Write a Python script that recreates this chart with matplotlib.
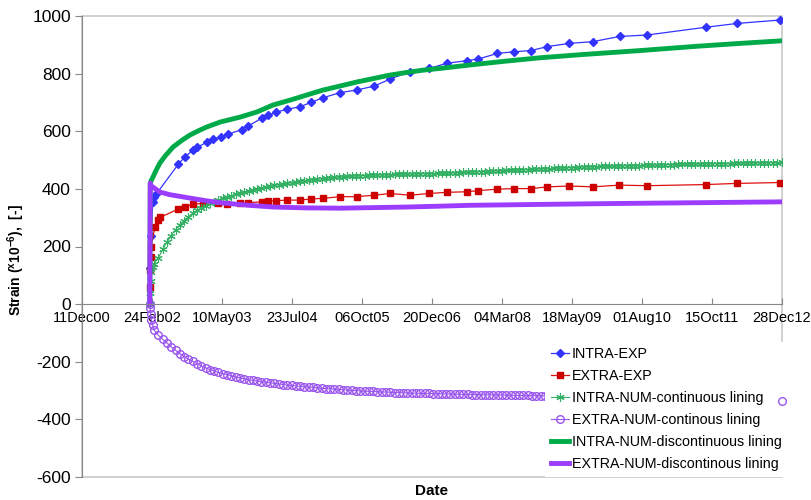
import matplotlib
matplotlib.use('Agg')
import matplotlib.pyplot as plt
import matplotlib.dates as mdates
from matplotlib.patches import Rectangle
import pandas as pd

plt.rcParams['font.family'] = ['Liberation Sans', 'DejaVu Sans']
plt.rcParams['axes.unicode_minus'] = False

# all series start at the same day (days below are counted from here)
start = pd.Timestamp('2002-02-10')

# experimental readings
intra_exp_days = [3, 6, 20, 29, 45, 180, 221, 273, 295, 357, 399, 446, 494, 578, 620, 704, 746, 794,
                  861, 944, 1013, 1087, 1196, 1301, 1412, 1510, 1636, 1757, 1866, 1993, 2066, 2185,
                  2290, 2395, 2500, 2638, 2785, 2953, 3125, 3496, 3689, 3961]
intra_exp_vals = [125, 235, 355, 373, 385, 486, 511, 535, 544, 561, 573, 581, 590, 606, 619, 645, 656, 666,
                  676, 685, 700, 716, 734, 743, 757, 781, 807, 818, 836, 845, 851, 870,
                  876, 880, 894, 905, 911, 929, 934, 961, 974, 986]

extra_exp_days = [2, 4, 6, 8, 32, 53, 64, 180, 221, 273, 336, 430, 487, 567, 619, 704, 744, 794,
                  861, 944, 1013, 1087, 1196, 1300, 1411, 1510, 1636, 1757, 1866, 1993, 2066, 2185,
                  2290, 2395, 2500, 2638, 2785, 2951, 3124, 3496, 3690, 3961]
extra_exp_vals = [60, 120, 164, 199, 268, 292, 301, 330, 338, 346, 350, 352, 347, 350, 352, 355, 357, 359,
                  361, 361, 365, 367, 373, 373, 378, 384, 378, 384, 388, 390, 394, 399,
                  401, 401, 407, 410, 407, 413, 411, 415, 419, 422]

# continuous lining model: first days, then every 27 days up to the end of the axis
cont_days = [0, 2, 5, 10, 18] + list(range(27, 3943, 27)) + [3974]
intra_cont_vals = [0, 40, 80, 110, 128,
                   140, 160, 190, 215, 238, 258, 275, 290, 303, 315,
                   325, 334, 342, 350, 356, 362, 367, 372, 377, 381,
                   385, 389, 393, 396, 400, 403, 406, 409, 412, 414,
                   417, 419, 421, 424, 426, 428, 430, 432, 434, 435,
                   437, 438, 440, 441, 442, 443, 444, 445, 446, 446,
                   447, 447, 448, 448, 449, 449, 450, 450, 451, 451,
                   452, 452, 452, 453, 453, 453, 454, 454, 454, 455,
                   456, 456, 457, 458, 458, 459, 460, 460, 461, 462,
                   462, 463, 464, 464, 465, 466, 466, 467, 468, 468,
                   469, 470, 470, 471, 472, 472, 473, 474, 474, 475,
                   476, 476, 477, 477, 478, 478, 478, 479, 479, 480,
                   480, 480, 481, 481, 482, 482, 482, 483, 483, 484,
                   484, 484, 485, 485, 485, 486, 486, 486, 487, 487,
                   487, 488, 488, 488, 488, 489, 489, 489, 489, 490,
                   490, 490, 490, 491, 491, 491, 492]
extra_cont_vals = [0, -15, -35, -55, -72,
                   -90, -108, -122, -135, -148, -160, -172, -182, -191, -199,
                   -207, -214, -221, -227, -232, -237, -241, -245, -249, -253,
                   -256, -259, -262, -265, -267, -269, -271, -273, -275, -277,
                   -279, -281, -282, -284, -285, -287, -288, -289, -291, -292,
                   -293, -294, -295, -296, -297, -298, -299, -300, -301, -302,
                   -303, -303, -304, -305, -305, -306, -307, -307, -308, -308,
                   -309, -309, -310, -310, -310, -311, -311, -311, -312, -312,
                   -312, -313, -313, -313, -314, -314, -314, -315, -315, -315,
                   -315, -316, -316, -316, -317, -317, -317, -317, -318, -318,
                   -318, -319, -319, -319, -320, -320, -320, -321, -321, -321,
                   -322, -322, -322, -323, -323, -323, -324, -324, -324, -325,
                   -325, -325, -326, -326, -326, -327, -327, -327, -328, -328,
                   -328, -329, -329, -329, -330, -330, -330, -330, -331, -331,
                   -331, -331, -332, -332, -332, -332, -333, -333, -333, -333,
                   -333, -334, -334, -334, -334, -334, -335]

# discontinuous lining model
intra_disc_days = [0, 3, 10, 20, 43, 64, 98, 146, 198, 253, 307, 359, 443, 567, 674, 774, 882, 988,
                   1089, 1197, 1302, 1406, 1510, 1615, 1717, 1824, 2012, 2214, 2453, 2714, 3082, 3440,
                   3713, 3974]
intra_disc_vals = [0, 420, 430, 441, 468, 490, 515, 545, 567, 587, 602, 615, 632, 649, 667, 691, 708, 726,
                   743, 757, 771, 783, 795, 804, 812, 818, 830, 842, 855, 866, 880, 895,
                   905, 914]
extra_disc_days = [0, 3, 10, 64, 125, 253, 352, 460, 625, 774, 988, 1196, 1406, 1617, 1824, 2013,
                   2441, 2896, 3441, 3974]
extra_disc_vals = [0, 420, 410, 389, 380, 368, 359, 351, 343, 337, 334, 333, 335, 337, 340, 343,
                   346, 349, 352, 355]


def to_dates(days):
    return [start + pd.Timedelta(days=d) for d in days]


fig = plt.figure(figsize=(8.11, 5.0), dpi=100)
ax = fig.add_axes([82 / 811, 23 / 500, 700 / 811, 461 / 500])

ax.plot(to_dates(intra_exp_days), intra_exp_vals, color='#3333ff', lw=0.9, marker='D', ms=4.2,
        label='INTRA-EXP')
ax.plot(to_dates(extra_exp_days), extra_exp_vals, color='#dd1111', lw=0.9, marker='s', ms=4.5,
        mfc='#cc0000', mec='#cc0000', label='EXTRA-EXP')
ax.plot(to_dates(cont_days), intra_cont_vals, color='#34b064', lw=0.8, marker=(6, 2, 0), ms=6,
        mew=0.8, label='INTRA-NUM-continuous lining')
ax.plot(to_dates(cont_days), extra_cont_vals, color='#9a55ee', lw=0.8, marker='o', ms=5.5,
        mfc='none', mew=1.0, clip_on=False, label='EXTRA-NUM-continous lining')
ax.plot(to_dates(intra_disc_days), intra_disc_vals, color='#00aa48', lw=3.5,
        label='INTRA-NUM-discontinuous lining')
ax.plot(to_dates(extra_disc_days), extra_disc_vals, color='#9b3cff', lw=3.5,
        label='EXTRA-NUM-discontinous lining')

# date axis every 440 days, crossing at zero strain
ticks = pd.date_range('2000-12-11', periods=11, freq='440D')
ax.set_xlim(ticks[0], ticks[-1])
ax.set_xticks(ticks)
ax.xaxis.set_major_formatter(mdates.DateFormatter('%d%b%y'))
ax.set_ylim(-600, 1000)
ax.set_yticks(range(-600, 1001, 200))

for s in ['top', 'right']:
    ax.spines[s].set_visible(False)
ax.spines['bottom'].set_position(('data', 0))
ax.spines['bottom'].set_color('#888888')
ax.spines['left'].set_color('#888888')
ax.add_patch(Rectangle((0, 0), 1, 1, transform=ax.transAxes, fill=False, ec='#c8c8c8', lw=1.2,
                       clip_on=False, zorder=0))

ax.tick_params(axis='x', direction='in', length=4, color='#888888', labelsize=10.5, pad=5)
ax.tick_params(axis='y', direction='out', length=5, color='#888888', labelsize=12.5, pad=3)

ax.set_ylabel(r'Strain ($\mathregular{^x10^{-6}}$),  [-]', fontsize=10, fontweight='bold')
ax.yaxis.set_label_coords(-0.078, 0.47)
fig.text(432 / 811, 0.018, 'Date', ha='center', va='center', fontsize=11, fontweight='bold')

leg = ax.legend(loc='lower left', bbox_to_anchor=(545 / 811, 23 / 500), bbox_transform=fig.transFigure,
                fontsize=10.25, frameon=True, fancybox=False, edgecolor='none', facecolor='white',
                framealpha=1, handlelength=1.3, handletextpad=0.2, labelspacing=0.56,
                borderpad=0.4, borderaxespad=0)
leg.set_zorder(5)

# the last reading of the continuous extrados series peeks out beside the legend
ax.plot(to_dates(cont_days[-1:]), extra_cont_vals[-1:], ls='none', marker='o', ms=5.5, mfc='none',
        mec='#9a55ee', mew=1.0, clip_on=False, zorder=6)

fig.savefig('out.png', dpi=100)
